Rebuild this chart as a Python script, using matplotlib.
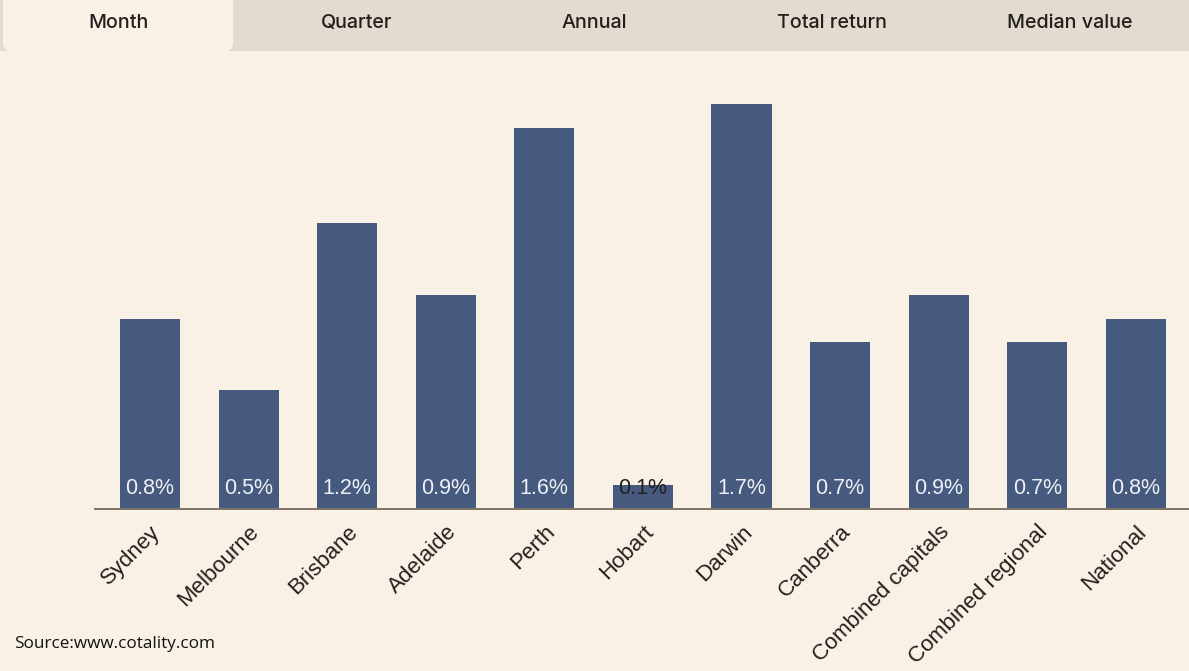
import matplotlib

matplotlib.use("Agg")
import matplotlib.pyplot as plt
from matplotlib.patches import FancyBboxPatch, Rectangle

regions = [
    "Sydney", "Melbourne", "Brisbane", "Adelaide", "Perth", "Hobart",
    "Darwin", "Canberra", "Combined capitals", "Combined regional", "National",
]
monthly_change = [0.8, 0.5, 1.2, 0.9, 1.6, 0.1, 1.7, 0.7, 0.9, 0.7, 0.8]
tabs = ["Month", "Quarter", "Annual", "Total return", "Median value"]

BG = "#faf1e6"
TAB_BG = "#e3dbd0"
BAR = "#465a7f"
TEXT = "#231f1c"

W, H = 1189, 671
fig = plt.figure(figsize=(W / 100, H / 100), dpi=100, facecolor=BG)

# tab strip across the top
strip = fig.add_axes([0, 0, 1, 1], zorder=0)
strip.set_xlim(0, W)
strip.set_ylim(H, 0)
strip.axis("off")
strip.add_patch(Rectangle((0, 0), W, 51, facecolor=TAB_BG, edgecolor="none"))
strip.add_patch(FancyBboxPatch((3, -10), 230, 61, boxstyle="round,pad=0,rounding_size=8",
                               facecolor=BG, edgecolor="none"))
tab_w = W / len(tabs)
for i, name in enumerate(tabs):
    strip.text(tab_w * (i + 0.5), 23, name, ha="center", va="center",
               fontsize=14.2, color=TEXT, family="Inter", fontweight="medium")

strip.text(14, 644, "Source:www.cotality.com", ha="left", va="center",
           fontsize=12.3, color="#111111", family="Open Sans")

# bar chart
ax = fig.add_axes([95 / W, (H - 509) / H, 1 - 95 / W, 449 / H], zorder=1)
ax.set_facecolor("none")
x = list(range(len(regions)))
bars = ax.bar(x, monthly_change, width=0.61, color=BAR, zorder=2)
ax.set_xlim(-0.558, 10.54)
ax.set_ylim(0, 449 / 238)

for rect, val in zip(bars, monthly_change):
    color = TEXT if val < 0.3 else "#eef0f4"
    ax.annotate(f"{val:.1f}%", (rect.get_x() + rect.get_width() / 2, 0),
                xytext=(0, 20), textcoords="offset pixels",
                ha="center", va="center", fontsize=15.5, color=color,
                family="Liberation Sans", zorder=3)

for side in ["top", "right", "left"]:
    ax.spines[side].set_visible(False)
ax.spines["bottom"].set_color("#7d7264")
ax.spines["bottom"].set_linewidth(1.4)
ax.set_yticks([])
ax.set_xticks(x)
ax.set_xticklabels(regions, rotation=45, ha="right", rotation_mode="anchor",
                   fontsize=16, color=TEXT, family="Liberation Sans")
ax.tick_params(axis="x", length=0, pad=9)

fig.savefig("out.png", dpi=100, facecolor=BG)
